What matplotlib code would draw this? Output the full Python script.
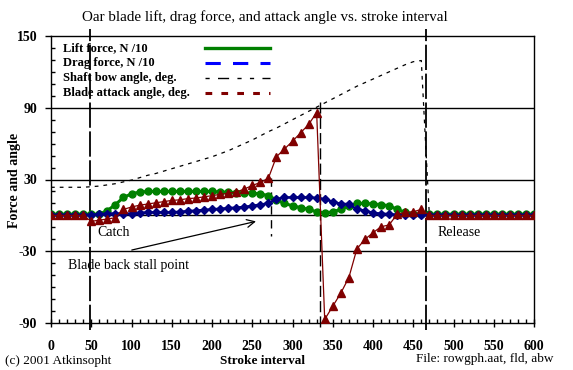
import matplotlib.pyplot as plt
import numpy as np
from matplotlib.ticker import MultipleLocator, FixedLocator

plt.rcParams['font.family'] = ['Liberation Serif', 'DejaVu Serif']
plt.rcParams['axes.unicode_minus'] = False

# stroke interval samples
stroke = np.arange(0, 610, 10)

lift = [1, 1, 1, 1, 1, 1, 1, 4, 9, 15,
        18, 19.5, 20, 20, 20, 20, 20, 20, 20, 20,
        20, 19.5, 19.5, 19, 19, 18.5, 18, 16.5, 13, 10,
        8, 6.5, 5, 3, 2, 3, 5, 8, 10, 10,
        9.5, 9, 8, 5, 2.5, 1, 1, 1, 1, 1,
        1, 1, 1, 1, 1, 1, 1, 1, 1, 1, 1]

drag = [0.5, 0.5, 0.5, 0.5, 0.5, 0.5, 1, 1.5, 1.5, 1.5,
        1.5, 2, 2.5, 2.5, 2.5, 2.5, 3, 3.5, 4, 4.5,
        5, 5.5, 6, 6.5, 7, 8, 9, 10, 13.5, 15,
        15, 15, 15, 14.5, 13.5, 11.5, 9.5, 9.5, 5, 4,
        2, 1.5, 1, 0.5, 0.5, 0.5, 0.5, 0.5, 0.5, 0.5,
        0.5, 0.5, 0.5, 0.5, 0.5, 0.5, 0.5, 0.5, 0.5, 0.5, 0.5]

attack = [0, 0, 0, 0, 0, -5, -4, -3, -2, 5,
          7, 8.5, 9.5, 10.5, 11.5, 12.5, 13, 14, 14.5, 15.5,
          16.5, 17.5, 18.5, 19.5, 22, 25, 27.5, 31, 49, 55.5,
          62, 69, 76, 86, -87, -76, -65, -52, -28, -20,
          -14.5, -9.5, -8, 1, 2.5, 3, 5, 0, 0, 0,
          0, 0, 0, 0, 0, 0, 0, 0, 0, 0, 0]

shaft = [23.5, 23.5, 23.5, 23.5, 23.5, 24, 24.5, 25.5, 26.5, 28,
         29.5, 31.5, 33.5, 35, 37, 39, 41, 43, 45, 47,
         49, 51.5, 54, 57, 60, 63, 66.5, 70, 73, 76.5,
         80, 83.5, 87, 90.5, 94, 97.5, 101, 104.5, 108, 111,
         114, 117, 120, 123, 126, 128.5, 129.5, 0, 0, 0,
         0, 0, 0, 0, 0, 0, 0, 0, 0, 0, 0]

catch_x = 48
release_x = 466
stall_x = 273
flip_x = 334

legend_labels = ["Lift force, N /10", "Drag force, N /10",
                 "Shaft bow angle, deg.", "Blade attack angle, deg."]

fig = plt.figure(figsize=(5.73, 3.70), dpi=100)
ax = fig.add_axes([51/573, 1-323/370, 483/573, 287/370])

ax.set_xlim(0, 600)
ax.set_ylim(-90, 150)

# grid lines and zero line
for yv in [90, 30, -30]:
    ax.axhline(yv, color='black', lw=1, zorder=1)
ax.axhline(0, color='black', lw=1, zorder=1)

# vertical markers
ax.plot([catch_x, catch_x], [-96, 156], color='black', lw=1.3,
        dashes=(14, 2), clip_on=False, zorder=2)
ax.plot([release_x, release_x], [-96, 156], color='black', lw=1.3,
        dashes=(14, 2), clip_on=False, zorder=2)
ax.plot([stall_x, stall_x], [31, -17], color='black', lw=1,
        dashes=(6, 4), zorder=2)
ax.plot([flip_x, flip_x], [95, -96], color='black', lw=1,
        dashes=(8, 3), clip_on=False, zorder=2)

# series
ax.plot(stroke, shaft, color='black', lw=0.9, dashes=(3, 4), zorder=3)
ax.plot(stroke, lift, color='#008000', lw=2.2, marker='o', markersize=5,
        zorder=4)
ax.plot(stroke, drag, color='#000080', lw=1.8, marker='D', markersize=3.6,
        zorder=5)
ax.plot(stroke, attack, color='#800000', lw=0.9, marker='^', markersize=5.5,
        zorder=6)

# ticks
ax.xaxis.set_major_locator(MultipleLocator(50))
ax.xaxis.set_minor_locator(MultipleLocator(10))
ax.yaxis.set_major_locator(FixedLocator([-90, -30, 30, 90, 150]))
ax.yaxis.set_minor_locator(MultipleLocator(10))
ax.tick_params(axis='x', which='major', direction='inout', length=6,
               width=1, pad=9, labelsize=10)
ax.tick_params(axis='x', which='minor', direction='in', length=3, width=1)
ax.tick_params(axis='y', which='major', direction='out', length=4,
               width=1, pad=6, labelsize=10)
ax.tick_params(axis='y', which='minor', direction='in', length=3, width=1)
for lab in ax.get_xticklabels() + ax.get_yticklabels():
    lab.set_fontweight('bold')
for sp in ax.spines.values():
    sp.set_linewidth(1)

# manual legend
leg_styles = [
    dict(color='#008000', lw=2.4),
    dict(color='#0000FF', lw=2.2, dashes=(5, 4)),
    dict(color='black', lw=1, dashes=(3, 6, 8, 6, 3, 6)),
    dict(color='#800000', lw=2.2, dashes=(2.2, 3)),
]
leg_y = [0.958, 0.906, 0.854, 0.801]
for lbl, sty, yy in zip(legend_labels, leg_styles, leg_y):
    ax.text(0.025, yy, lbl, transform=ax.transAxes, fontsize=9,
            fontweight='bold', va='center', ha='left')
    ax.plot([0.319, 0.453], [yy, yy], transform=ax.transAxes, **sty)

# annotations
ax.text(57, -14, "Catch", fontsize=10, va='center', ha='left')
ax.text(480, -14, "Release", fontsize=10, va='center', ha='left')
ax.text(21, -41.5, "Blade back stall point", fontsize=10, va='center',
        ha='left')
ax.annotate("", xy=(258, -4.5), xytext=(97, -29.5),
            arrowprops=dict(arrowstyle='->', color='black', lw=0.9,
                            mutation_scale=14))

fig.text(82/573, 1-17/370, "Oar blade lift, drag force, and attack angle vs. stroke interval",
         fontsize=10.8, ha='left', va='center')
fig.text(15/573, 1-180/370, "Force and angle", rotation=90, fontsize=10,
         fontweight='bold', ha='center', va='center')
fig.text(262/573, 1-361/370, "Stroke interval", fontsize=9.5,
         fontweight='bold', ha='center', va='center')
fig.text(5/573, 1-361/370, "(c) 2001 Atkinsopht", fontsize=9.5,
         ha='left', va='center')
fig.text(553/573, 1-359/370, "File: rowgph.aat, fld, abw", fontsize=9.5,
         ha='right', va='center')

plt.savefig("out.png", dpi=100)
